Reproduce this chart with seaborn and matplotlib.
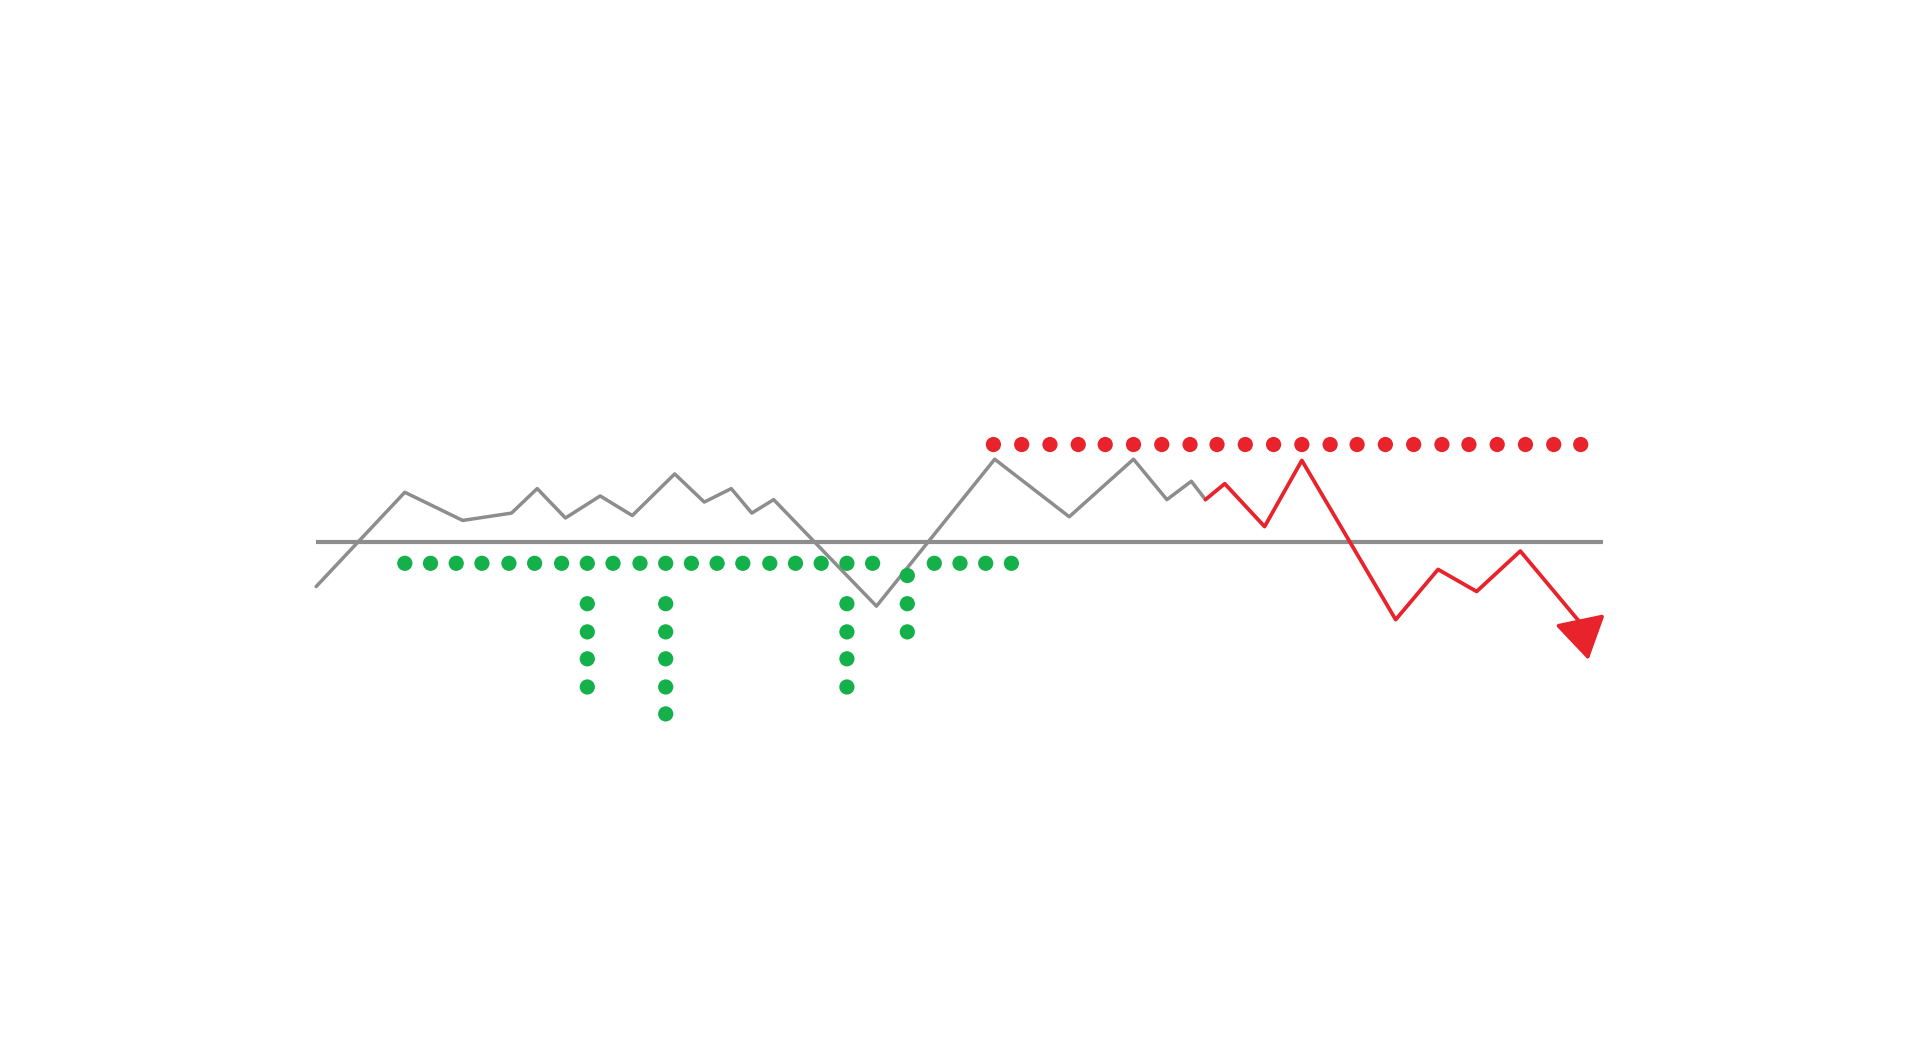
import seaborn as sns
import pandas as pd
import matplotlib.pyplot as plt

# price path (time step, price); gray part then the red breakdown
gray_t = [0, 6.9, 11.4, 15.2, 17.2, 19.4, 22.1, 24.6, 27.9, 30.2, 32.3, 33.9, 35.6,
          43.6, 52.8, 58.6, 63.6, 66.2, 68.1, 69.2]
gray_price = [96.4, 104.1, 101.8, 102.4, 104.4, 102.0, 103.8, 102.2, 105.6, 103.3, 104.4,
              102.4, 103.5, 94.8, 106.8, 102.1, 106.8, 103.5, 105.0, 103.5]
red_t = [69.2, 70.7, 73.8, 76.7, 84.0, 87.3, 90.3, 93.7, 98.4]
red_price = [103.5, 104.8, 101.3, 106.7, 93.7, 97.8, 96.0, 99.3, 93.4]
arrow_tip = (99.0, 90.4)

baseline = 100.0
baseline_span = [0, 100.1]

# red dotted level above the highs
red_dots_t = [52.7, 54.9, 57.1, 59.3, 61.4, 63.6, 65.8, 68.0, 70.1, 72.3, 74.5,
              76.7, 78.9, 81.0, 83.2, 85.4, 87.6, 89.7, 91.9, 94.1, 96.3, 98.4]
red_dots_price = [108.0] * len(red_dots_t)

# green dotted level below the baseline, plus the vertical columns
green_row_t = [6.9, 8.9, 10.9, 12.9, 15.0, 17.0, 19.1, 21.1, 23.1, 25.2, 27.2, 29.2,
               31.2, 33.2, 35.3, 37.3, 39.3, 41.3, 43.3, 48.1, 50.1, 52.1, 54.1]
green_row_price = [98.3] * len(green_row_t)
green_col_t = [21.1, 21.1, 21.1, 21.1,
               27.2, 27.2, 27.2, 27.2, 27.2,
               41.3, 41.3, 41.3, 41.3,
               46.0, 46.0, 46.0]
green_col_price = [95.0, 92.7, 90.5, 88.2,
                   95.0, 92.7, 90.5, 88.2, 86.0,
                   95.0, 92.7, 90.5, 88.2,
                   97.3, 95.0, 92.7]

GRAY = '#8d8d8d'
RED = '#e8232b'
GREEN = '#14b04a'

sns.set_style('white')
fig = plt.figure(figsize=(19.2, 10.47), dpi=100)
ax = fig.add_axes([0, 0, 1, 1])

ax.plot(baseline_span, [baseline, baseline], color=GRAY, lw=3.0, solid_capstyle='butt', zorder=1)

gray_df = pd.DataFrame({'t': gray_t, 'price': gray_price})
red_df = pd.DataFrame({'t': red_t, 'price': red_price})
sns.lineplot(data=gray_df, x='t', y='price', sort=False, color=GRAY, lw=2.5, ax=ax, zorder=2)
sns.lineplot(data=red_df, x='t', y='price', sort=False, color=RED, lw=2.7, ax=ax, zorder=3)
ax.annotate('', xy=arrow_tip, xytext=(red_t[-1], red_price[-1]),
            arrowprops=dict(arrowstyle='-|>,head_length=1.3,head_width=0.8',
                            color=RED, lw=2.7, mutation_scale=20,
                            shrinkA=0, shrinkB=0), zorder=3)

dots = pd.concat([
    pd.DataFrame({'t': red_dots_t, 'price': red_dots_price, 'grp': 'red'}),
    pd.DataFrame({'t': green_row_t + green_col_t,
                  'price': green_row_price + green_col_price, 'grp': 'green'}),
])
sns.scatterplot(data=dots, x='t', y='price', hue='grp', palette={'red': RED, 'green': GREEN},
                s=120, linewidth=0, legend=False, ax=ax, zorder=4)

ax.set_xlim(-24.6, 124.8)
ax.set_ylim(58.8, 144.3)
ax.axis('off')

fig.savefig('out.png', dpi=100, facecolor='white')
